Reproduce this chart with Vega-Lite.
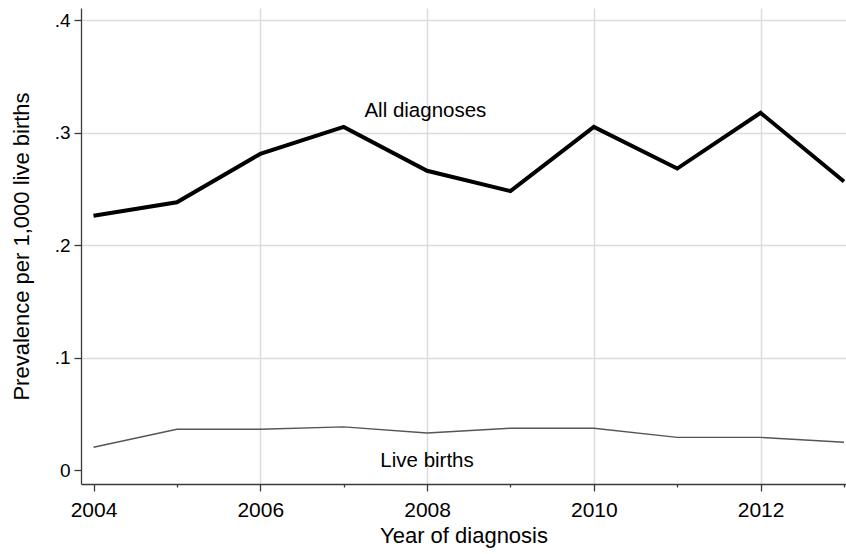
{
  "$schema": "https://vega.github.io/schema/vega-lite/v6.json",
  "autosize": "none",
  "padding": {"left": 81, "top": 8, "right": 0, "bottom": 70},
  "width": 765,
  "height": 476,
  "background": "white",
  "config": {
    "view": {"stroke": null},
    "font": "Liberation Sans",
    "axis": {"labelFont": "Liberation Sans", "titleFont": "Liberation Sans", "titleFontWeight": "normal", "labelColor": "black", "titleColor": "black", "domainColor": "#3a3a3a", "tickColor": "#3a3a3a", "domainWidth": 1.3, "tickWidth": 1.3, "gridColor": "#dcdcdc", "gridWidth": 1.5}
  },
  "datasets": {
    "series": [
      {"year": 2004, "value": 0.226, "series": "All diagnoses"},
      {"year": 2005, "value": 0.238, "series": "All diagnoses"},
      {"year": 2006, "value": 0.281, "series": "All diagnoses"},
      {"year": 2007, "value": 0.305, "series": "All diagnoses"},
      {"year": 2008, "value": 0.266, "series": "All diagnoses"},
      {"year": 2009, "value": 0.248, "series": "All diagnoses"},
      {"year": 2010, "value": 0.305, "series": "All diagnoses"},
      {"year": 2011, "value": 0.268, "series": "All diagnoses"},
      {"year": 2012, "value": 0.3175, "series": "All diagnoses"},
      {"year": 2013, "value": 0.2565, "series": "All diagnoses"},
      {"year": 2004, "value": 0.0203, "series": "Live births"},
      {"year": 2005, "value": 0.0363, "series": "Live births"},
      {"year": 2006, "value": 0.0363, "series": "Live births"},
      {"year": 2007, "value": 0.0384, "series": "Live births"},
      {"year": 2008, "value": 0.0330, "series": "Live births"},
      {"year": 2009, "value": 0.0372, "series": "Live births"},
      {"year": 2010, "value": 0.0372, "series": "Live births"},
      {"year": 2011, "value": 0.0290, "series": "Live births"},
      {"year": 2012, "value": 0.0290, "series": "Live births"},
      {"year": 2013, "value": 0.0247, "series": "Live births"}
    ],
    "labels": [
      {"year": 2007.98, "value": 0.319, "label": "All diagnoses"},
      {"year": 2008, "value": 0.0076, "label": "Live births"}
    ]
  },
  "layer": [
    {
      "data": {"name": "series"},
      "mark": {"type": "line", "clip": true},
      "encoding": {
        "x": {
          "field": "year", "type": "quantitative",
          "scale": {"domain": [2003.85, 2013.024], "nice": false, "zero": false},
          "axis": {
            "title": "Year of diagnosis", "titleFontSize": 22, "titlePadding": 5,
            "values": [2004, 2005, 2006, 2007, 2008, 2009, 2010, 2011, 2012, 2013],
            "labelExpr": "datum.value % 2 == 0 ? format(datum.value, 'd') : ''",
            "labelFontSize": 21, "labelPadding": 8,
            "tickSize": {"condition": {"test": "datum.value % 2 == 1", "value": 3}, "value": 7},
            "gridColor": {"condition": {"test": "datum.value % 2 == 1 || datum.value == 2004", "value": "transparent"}, "value": "#dcdcdc"}
          }
        },
        "y": {
          "field": "value", "type": "quantitative",
          "scale": {"domain": [-0.0124, 0.4107], "nice": false, "zero": false},
          "axis": {
            "title": "Prevalence per 1,000 live births", "titleFontSize": 22, "titlePadding": 21,
            "values": [0, 0.1, 0.2, 0.3, 0.4],
            "labelExpr": "datum.value == 0 ? '0' : replace(format(datum.value, '.1f'), '0.', '.')",
            "labelFontSize": 19, "labelPadding": 4, "tickSize": 7,
            "gridColor": {"condition": {"test": "datum.value == 0", "value": "transparent"}, "value": "#dcdcdc"}
          }
        },
        "color": {"field": "series", "type": "nominal", "scale": {"domain": ["All diagnoses", "Live births"], "range": ["black", "#555555"]}, "legend": null},
        "strokeWidth": {"field": "series", "type": "nominal", "scale": {"domain": ["All diagnoses", "Live births"], "range": [4, 1.4]}, "legend": null}
      }
    },
    {
      "data": {"name": "labels"},
      "mark": {"type": "text", "fontSize": 20.5, "color": "black", "align": "center", "baseline": "middle"},
      "encoding": {
        "x": {"field": "year", "type": "quantitative"},
        "y": {"field": "value", "type": "quantitative"},
        "text": {"field": "label"}
      }
    }
  ]
}
